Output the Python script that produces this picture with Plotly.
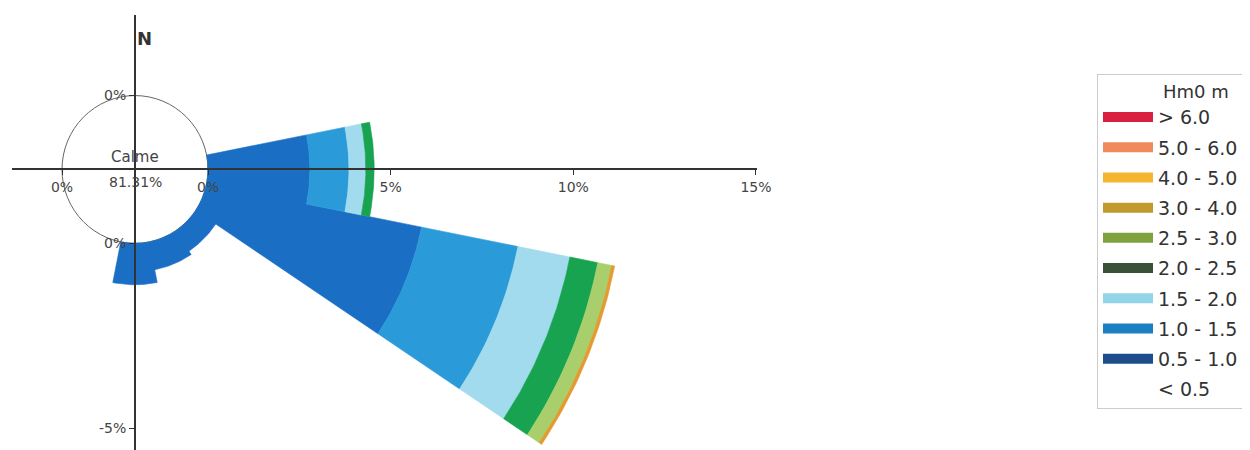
import numpy as np
import plotly.graph_objects as go

# ---------------- data ----------------
directions = ["N", "NNE", "NE", "ENE", "E", "ESE", "SE", "SSE",
              "S", "SSW", "SW", "WSW", "W", "WNW", "NW", "NNW"]
dir_angles = [i * 22.5 for i in range(16)]

bin_labels = ["< 0.5", "0.5 - 1.0", "1.0 - 1.5", "1.5 - 2.0", "2.0 - 2.5",
              "2.5 - 3.0", "3.0 - 4.0", "4.0 - 5.0", "5.0 - 6.0", "> 6.0"]

# frequency (%) per direction for each Hm0 class
freq_lt05 = [0] * 16
freq_05_10 = [0, 0, 0, 0, 2.79, 6.00, 0.66, 0.77, 1.12, 0, 0, 0, 0, 0, 0, 0]
freq_10_15 = [0, 0, 0, 0, 1.07, 2.69, 0, 0, 0, 0, 0, 0, 0, 0, 0, 0]
freq_15_20 = [0, 0, 0, 0, 0.46, 1.45, 0, 0, 0, 0, 0, 0, 0, 0, 0, 0]
freq_20_25 = [0, 0, 0, 0, 0.23, 0.78, 0, 0, 0, 0, 0, 0, 0, 0, 0, 0]
freq_25_30 = [0, 0, 0, 0, 0, 0.39, 0, 0, 0, 0, 0, 0, 0, 0, 0, 0]
freq_30_40 = [0, 0, 0, 0, 0, 0.08, 0, 0, 0, 0, 0, 0, 0, 0, 0, 0]
freq_40_50 = [0] * 16
freq_50_60 = [0] * 16
freq_gt60 = [0] * 16

calm_pct = 81.31

x_tick_vals = [0, 5, 10, 15]
y_tick_vals = [0, -5]

# ---------------- styles ----------------
chart_colors = ["rgba(0,0,0,0)", "#1a6fc4", "#2a9ad8", "#a2dbee", "#17a350",
                "#a9cf6c", "#e39a30", "#f6b530", "#f08a5c", "#d9203e"]
legend_colors = ["rgba(0,0,0,0)", "#1e4d8c", "#1a80c2", "#92d5e8", "#3a5138",
                 "#7ea33c", "#c29a2b", "#f6b530", "#f08a5c", "#d9203e"]

all_bins = [freq_lt05, freq_05_10, freq_10_15, freq_15_20, freq_20_25,
            freq_25_30, freq_30_40, freq_40_50, freq_50_60, freq_gt60]

W, H = 1250, 450
K, OFF = 0.988, 8.0


def fpx(v):
    """reference pixel -> figure pixel (page margin / rendering scale)"""
    return (v - OFF) / K


cx_px, cy_px = fpx(135), fpx(167.5)   # pole position
scale = 36.53 / K                      # px per percent
hole = 73 / 36.53                      # calm circle radius in percent units
half_w = 11.25

x_dom_px = (fpx(12), fpx(757))
y_dom_px = (fpx(15), H)                # from top
x_range = [(x_dom_px[0] - cx_px) / scale, (x_dom_px[1] - cx_px) / scale]
y_range = [-(y_dom_px[1] - cy_px) / scale, (cy_px - y_dom_px[0]) / scale]

fig = go.Figure()


def sector_path(r0, r1, theta_c):
    th = np.radians(np.linspace(theta_c - half_w, theta_c + half_w, 40))
    xs = list(r1 * np.sin(th)) + list(r0 * np.sin(th[::-1]))
    ys = list(r1 * np.cos(th)) + list(r0 * np.cos(th[::-1]))
    xs.append(xs[0])
    ys.append(ys[0])
    return xs, ys


cum = np.zeros(16)
for b, vals in enumerate(all_bins):
    xs, ys = [], []
    for d in range(16):
        v = vals[d]
        if v > 0:
            r0 = hole + cum[d]
            r1 = hole + cum[d] + v
            px, py = sector_path(r0, r1, dir_angles[d])
            xs += px + [None]
            ys += py + [None]
    cum += np.array(vals)
    if xs:
        fig.add_trace(go.Scatter(
            x=xs, y=ys, mode="lines", fill="toself",
            fillcolor=chart_colors[b],
            line=dict(color=chart_colors[b], width=0.6),
            showlegend=False, hoverinfo="skip"))

# legend entries (top = > 6.0)
for b in range(len(bin_labels) - 1, -1, -1):
    fig.add_trace(go.Scatter(
        x=[None], y=[None], mode="lines",
        line=dict(color=legend_colors[b], width=16),
        name=bin_labels[b], legendgroup=bin_labels[b], hoverinfo="skip"))

# calm circle
fig.add_shape(type="circle", xref="x", yref="y",
              x0=-hole, x1=hole, y0=-hole, y1=hole,
              line=dict(color="#666", width=1), fillcolor="white", layer="below")

fig.add_annotation(x=0, y=0.33, text="Calme", showarrow=False,
                   font=dict(size=15, color="#444"))
fig.add_annotation(x=0, y=-0.33, text=f"{calm_pct:.2f}%", showarrow=False,
                   font=dict(size=14, color="#444"))
fig.add_annotation(x=0.0, y=y_range[1] - 0.3, text="<b>N</b>", showarrow=False,
                   xanchor="left", yanchor="top", font=dict(size=18, color="#333"))

xt = [-hole] + [hole + v for v in x_tick_vals]
xtt = ["0%"] + [f"{v}%" for v in x_tick_vals]
yt = [hole, -hole] + [-(hole - v) for v in y_tick_vals if v < 0]
ytt = ["0%", "0%"] + [f"{v}%" for v in y_tick_vals if v < 0]

fig.update_layout(
    width=W, height=H,
    margin=dict(l=0, r=0, t=0, b=0),
    paper_bgcolor="white", plot_bgcolor="white",
    font=dict(family="DejaVu Sans", color="#333"),
    xaxis=dict(domain=[x_dom_px[0] / W, x_dom_px[1] / W], range=x_range,
               anchor="free", position=(H - cy_px) / H,
               showline=True, linecolor="#333", linewidth=2,
               ticks="outside", ticklen=5, tickcolor="#333",
               tickvals=xt, ticktext=xtt, tickfont=dict(size=14, color="#444"),
               showgrid=False, zeroline=False, layer="above traces",
               fixedrange=True),
    yaxis=dict(domain=[0, (H - y_dom_px[0]) / H], range=y_range,
               anchor="free", position=cx_px / W,
               showline=True, linecolor="#333", linewidth=2,
               ticks="outside", ticklen=5, tickcolor="#333",
               tickvals=yt, ticktext=ytt, tickfont=dict(size=14, color="#444"),
               showgrid=False, zeroline=False, layer="above traces",
               fixedrange=True),
    legend=dict(x=fpx(1097) / W, y=(H - fpx(73)) / H,
                xanchor="left", yanchor="top",
                bordercolor="#ccc", borderwidth=1, bgcolor="white",
                font=dict(size=19, color="#333"),
                title=dict(text="&nbsp;&nbsp;&nbsp;&nbsp;&nbsp;&nbsp;&nbsp;&nbsp;&nbsp;&nbsp;&nbsp;Hm0 m",
                           font=dict(size=18, color="#333")),
                itemwidth=50, tracegroupgap=2.5),
)

fig.write_html("out.html")
